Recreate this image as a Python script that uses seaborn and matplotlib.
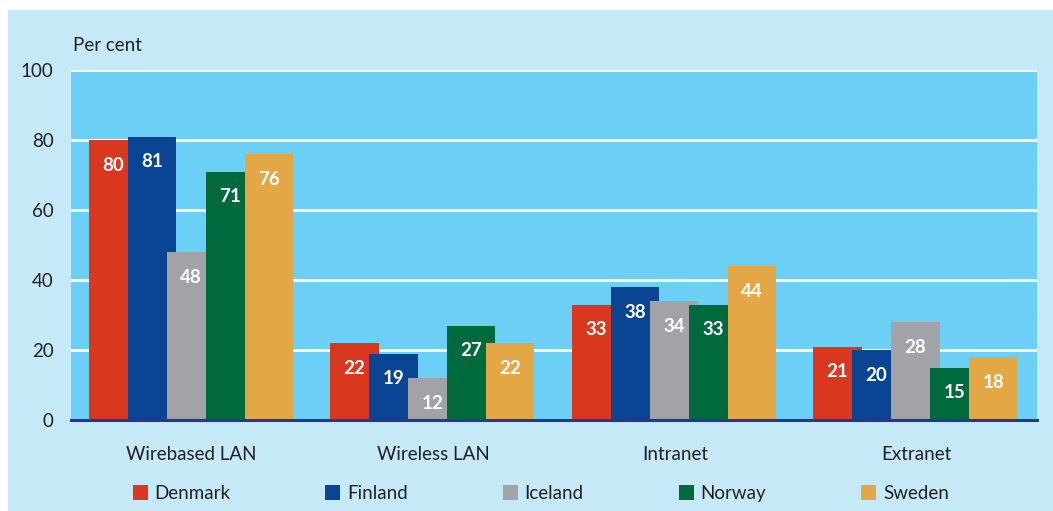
import matplotlib
matplotlib.use("Agg")
import matplotlib.pyplot as plt
import matplotlib.patches as mpatches
import seaborn as sns
import pandas as pd

categories = ["Wirebased LAN", "Wireless LAN", "Intranet", "Extranet"]
countries = ["Denmark", "Finland", "Iceland", "Norway", "Sweden"]
denmark = [80, 22, 33, 21]
finland = [81, 19, 38, 20]
iceland = [48, 12, 34, 28]
norway = [71, 27, 33, 15]
sweden = [76, 22, 44, 18]
yticks = [0, 20, 40, 60, 80, 100]
colors = ["#D9381E", "#0A4594", "#A1A3A6", "#006A3E", "#E3A845"]

series = {"Denmark": denmark, "Finland": finland, "Iceland": iceland,
          "Norway": norway, "Sweden": sweden}
rows = []
for c in countries:
    for cat, v in zip(categories, series[c]):
        rows.append({"category": cat, "country": c, "value": v})
df = pd.DataFrame(rows)

sns.set_theme(style="white")
plt.rcParams["font.family"] = ["Lato", "DejaVu Sans"]
TXT = "#231F20"
FS = 13.5

fig = plt.figure(figsize=(10.53, 5.11), dpi=100, facecolor="white")
# light blue panel
fig.patches.append(mpatches.Rectangle((8 / 1053, 0), 1 - 8 / 1053, 1 - 10 / 511,
                                      transform=fig.transFigure, facecolor="#C6E9F8",
                                      edgecolor="none", zorder=-10))
ax = fig.add_axes([71 / 1053, 91 / 511, 966 / 1053, 350 / 511])
ax.set_zorder(1)
ax.set_facecolor("#6BCFF6")

sns.barplot(data=df, x="category", y="value", hue="country", order=categories,
            hue_order=countries, palette=colors, saturation=1, width=0.807,
            errorbar=None, legend=False, ax=ax, zorder=3)

# widen bars so they overlap like in the reference
for p in ax.patches:
    p.set_x(p.get_x() - 0.022)
    p.set_width(0.199)
    p.set_edgecolor("none")

for container, c in zip(ax.containers, countries):
    for p, v in zip(container, series[c]):
        ax.annotate(f"{v}", (p.get_x() + p.get_width() / 2, p.get_height()),
                    xytext=(0, -18), textcoords="offset points", ha="center",
                    va="center", color="white", fontsize=FS, fontweight="bold",
                    zorder=5)

ax.set_ylim(0, 100)
ax.set_xlim(-0.5, len(categories) - 0.5)
ax.set_yticks(yticks)
ax.set_yticklabels([str(t) for t in yticks])
ax.yaxis.grid(True, color="white", linewidth=2.2, zorder=1)
ax.set_axisbelow(True)
for s in ["top", "right", "left"]:
    ax.spines[s].set_visible(False)
ax.spines["bottom"].set_color("#2A3590")
ax.spines["bottom"].set_linewidth(2.2)
ax.spines["bottom"].set_zorder(6)
ax.tick_params(axis="y", length=0, pad=12.5, labelsize=FS, labelcolor=TXT)
ax.tick_params(axis="x", length=0, pad=19, labelsize=FS, labelcolor=TXT)
ax.set_xlabel("")
ax.set_ylabel("")
ax.text(0.002, 1.07, "Per cent", transform=ax.transAxes, ha="left", va="center",
        fontsize=FS, color=TXT)

handles = [mpatches.Patch(facecolor=col, edgecolor="none", label=c)
           for c, col in zip(countries, colors)]
fig.legend(handles=handles, loc="center", bbox_to_anchor=(0.5135, 0.034), ncol=5,
           frameon=False, fontsize=FS, handlelength=0.8, handleheight=0.8,
           handletextpad=0.35, columnspacing=5.08, labelcolor=TXT)

fig.savefig("out.png", dpi=100, facecolor="white")
